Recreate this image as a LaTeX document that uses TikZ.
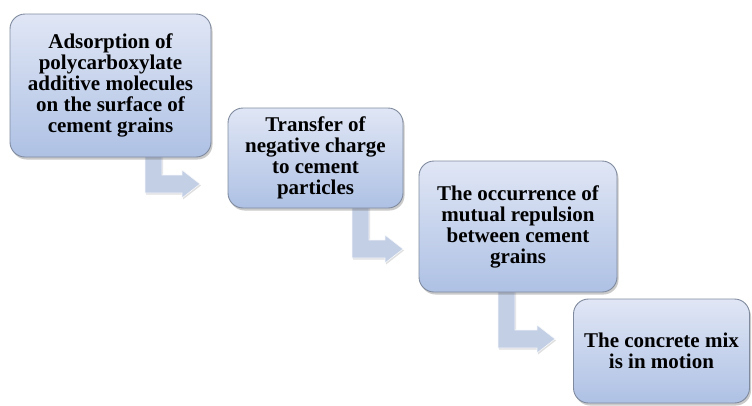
\documentclass[tikz,border=0pt]{standalone}
\usepackage{fontspec}
\setmainfont{Liberation Serif}
\usetikzlibrary{shadows,calc}
\definecolor{boxtop}{HTML}{E0E6F5}
\definecolor{boxbot}{HTML}{AEC1E4}
\definecolor{boxedge}{HTML}{7F8A9E}
\definecolor{arrowfill}{HTML}{C3CFE4}
\tikzset{
  stepbox/.style={rectangle, rounded corners=15pt, draw=boxedge, line width=0.9pt,
    top color=boxtop, bottom color=boxbot, align=center, inner sep=0pt,
    font=\fontsize{21}{21}\selectfont\bfseries,
    drop shadow={shadow xshift=1.5pt, shadow yshift=-2.5pt, opacity=0.35, fill=black!60}},
  elbow/.style={fill=arrowfill, draw=white!85!arrowfill, line width=0.6pt,
    drop shadow={shadow xshift=1pt, shadow yshift=-1.5pt, opacity=0.25, fill=black!50}}
}
% #1 bar left x, #2 top y, #3 bottom y, #4 tip x
\newcommand\elbowarrow[4]{%
  \path[elbow] (#1,#2) -- ({#1+17},#2) -- ({#1+17},{#3-18}) -- ({#4-18},{#3-18})
    -- ({#4-18},{#3-23}) -- (#4,{#3-9}) -- ({#4-18},{#3+5}) -- ({#4-18},#3)
    -- (#1,#3) -- cycle;}
\begin{document}
\begin{tikzpicture}[x=1pt,y=-1pt]
\useasboundingbox (0,0) rectangle (752,405);
% arrows (behind boxes)
\elbowarrow{145}{150}{193}{200}
\elbowarrow{352}{200}{258}{403}
\elbowarrow{498}{285}{348}{555}
% boxes
\node[stepbox, minimum width=201pt, minimum height=143pt] (b1) at (110.5,85.5)
  {Adsorption of\\polycarboxylate\\additive molecules\\on the surface of\\cement grains};
\node[stepbox, minimum width=175pt, minimum height=100pt] (b2) at (315.5,158)
  {Transfer of\\negative charge\\to cement\\particles};
\node[stepbox, minimum width=198pt, minimum height=131pt] (b3) at (518,226.5)
  {The occurrence of\\mutual repulsion\\between cement\\grains};
\node[stepbox, minimum width=176pt, minimum height=104pt] (b4) at (661.5,351)
  {The concrete mix\\is in motion};
\end{tikzpicture}
\end{document}
